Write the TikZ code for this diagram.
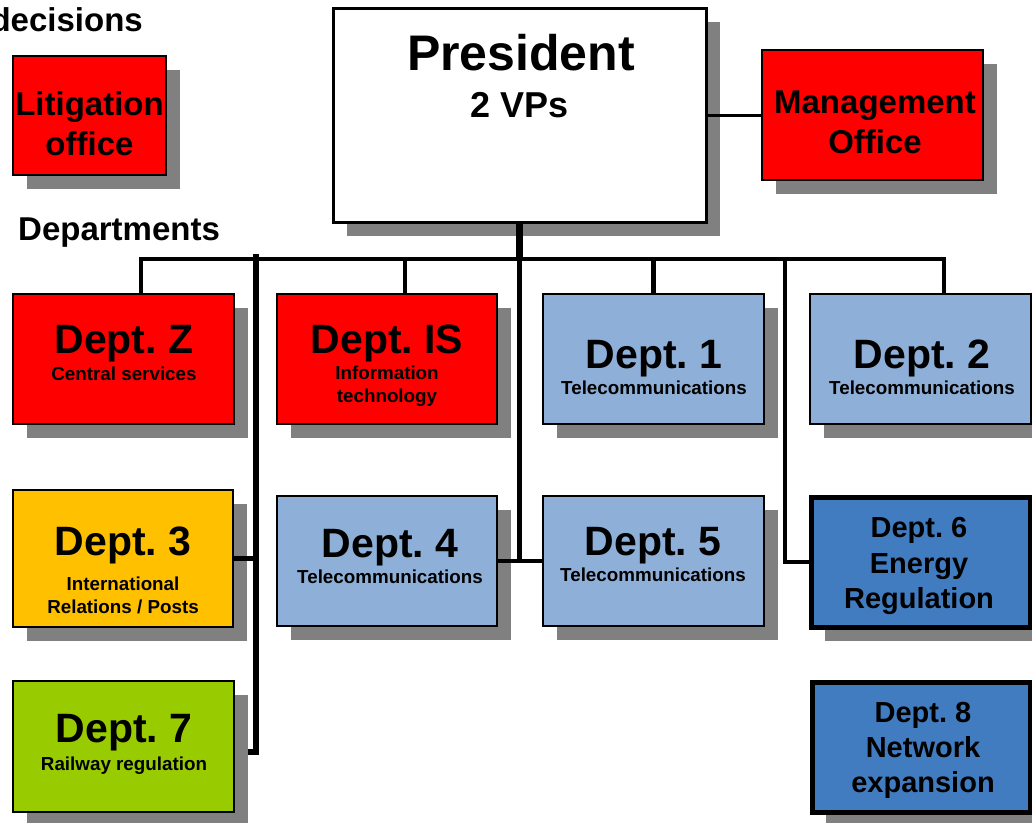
\documentclass[tikz,border=0pt]{standalone}
\usepackage{fontspec}
\setmainfont{Liberation Sans}
\usetikzlibrary{shadows}
\pgfdeclarelayer{bg}
\pgfsetlayers{bg,main}
\definecolor{lblue}{RGB}{142,176,216}
\definecolor{dblue}{RGB}{65,124,192}
\definecolor{dred}{RGB}{255,0,0}
\definecolor{dorange}{RGB}{255,192,0}
\definecolor{dgreen}{RGB}{153,204,0}
\definecolor{shadowgray}{RGB}{128,128,128}
\begin{document}
\frenchspacing
\begin{tikzpicture}[x=1pt,y=-1pt,
  orgbox/.style={draw=black, line width=1.5pt, inner sep=0pt,
    drop shadow={shadow xshift=14pt, shadow yshift=-14pt, fill=shadowgray, opacity=1}},
  thickbox/.style={orgbox, line width=5pt},
  txt/.style={anchor=base, inner sep=0pt, text=black},
  huge/.style={txt, font=\fontsize{50}{50}\selectfont\bfseries},
  big/.style={txt, font=\fontsize{41}{41}\selectfont\bfseries},
  mid/.style={txt, font=\fontsize{33}{33}\selectfont\bfseries},
  med/.style={txt, font=\fontsize{29}{29}\selectfont\bfseries},
  small/.style={txt, font=\fontsize{18.8}{18.8}\selectfont\bfseries},
  conn/.style={line width=4.5pt},
]
\useasboundingbox (0,0) rectangle (1032,822);
\clip (0,0) rectangle (1032,822);

% boxes
\node[orgbox, line width=3pt, fill=white, minimum width=373pt, minimum height=214pt] (pres) at (519.5,115) {};
\node[orgbox, fill=dred, minimum width=221pt, minimum height=130pt] (mgmt) at (872.5,115) {};
\node[orgbox, fill=dred, minimum width=153pt, minimum height=119pt] (lit) at (89.5,115.5) {};
\node[orgbox, fill=dred, minimum width=221pt, minimum height=130pt] (dz) at (123.5,359) {};
\node[orgbox, fill=dred, minimum width=220pt, minimum height=130pt] (dis) at (387,359) {};
\node[orgbox, fill=lblue, minimum width=221pt, minimum height=130pt] (d1) at (653.5,359) {};
\node[orgbox, fill=lblue, minimum width=221pt, minimum height=130pt] (d2) at (920.5,359) {};
\node[orgbox, fill=dorange, minimum width=220pt, minimum height=137pt] (d3) at (123,558.5) {};
\node[orgbox, fill=lblue, minimum width=220pt, minimum height=130pt] (d4) at (387,561) {};
\node[orgbox, fill=lblue, minimum width=221pt, minimum height=130pt] (d5) at (653.5,561) {};
\node[thickbox, fill=dblue, minimum width=219pt, minimum height=130pt] (d6) at (920.5,562) {};
\node[orgbox, fill=dgreen, minimum width=221pt, minimum height=131pt] (d7) at (123.5,746.5) {};
\node[thickbox, fill=dblue, minimum width=218pt, minimum height=130pt] (d8) at (921,747) {};

% free labels
\node[mid, anchor=base east] (decisions) at (143,31) {decisions};
\node[mid, anchor=base west] (departments) at (18,240) {Departments};

% texts in boxes
\node[huge] (pres-t1) at (521,70) {President};
\node[txt, font=\fontsize{36}{36}\selectfont\bfseries] (pres-t2) at (520,117) {2 VPs};
\node[mid] (mgmt-t1) at (875,113) {Management};
\node[mid] (mgmt-t2) at (875,153) {Office};
\node[mid] (lit-t1) at (89.5,115) {Litigation};
\node[mid] (lit-t2) at (89.5,155) {office};
\node[big] (dz-t1) at (124,353) {Dept. Z};
\node[small] (dz-t2) at (124,380) {Central services};
\node[big] (dis-t1) at (387,353) {Dept. IS};
\node[small] (dis-t2) at (387,379) {Information};
\node[small] (dis-t3) at (387,402) {technology};
\node[big] (d1-t1) at (654,368) {Dept. 1};
\node[small] (d1-t2) at (654,394) {Telecommunications};
\node[big] (d2-t1) at (922,368) {Dept. 2};
\node[small] (d2-t2) at (922,394) {Telecommunications};
\node[big] (d3-t1) at (123,555) {Dept. 3};
\node[small] (d3-t2) at (123,590) {International};
\node[small] (d3-t3) at (123,613) {Relations / Posts};
\node[big] (d4-t1) at (390,557) {Dept. 4};
\node[small] (d4-t2) at (390,583) {Telecommunications};
\node[big] (d5-t1) at (653,555) {Dept. 5};
\node[small] (d5-t2) at (653,581) {Telecommunications};
\node[med] (d6-t1) at (919,537) {Dept. 6};
\node[med] (d6-t2) at (919,573) {Energy};
\node[med] (d6-t3) at (919,608) {Regulation};
\node[big] (d7-t1) at (124,742) {Dept. 7};
\node[small] (d7-t2) at (124,770) {Railway regulation};
\node[med] (d8-t1) at (923,722) {Dept. 8};
\node[med] (d8-t2) at (923,757) {Network};
\node[med] (d8-t3) at (923,792) {expansion};

% connectors
\coordinate (busL) at (141,259);
\coordinate (busR) at (944,259);
\coordinate (rv) at (785,259);
\coordinate (lvtop) at (256,254);
\coordinate (lvbot) at (256,752);

\draw[line width=3pt] (pres.east) -- (mgmt.west);
\draw[line width=7pt] (pres.south) -- (pres.south |- busL);
\draw[conn] ([xshift=17.5pt]dz.north) -- (busL) -- (busR) -- ([xshift=23.5pt]d2.north);
\draw[conn] ([xshift=18pt]dis.north) -- ([xshift=18pt]dis.north |- busL);
\draw[conn] (d1.north) -- (d1.north |- busL);
\draw[conn] (pres.south |- busL) -- (pres.south |- d4.east);
\draw[conn] (d4.east) -- (d5.west);
\draw[line width=4pt] (rv) |- (d6.west);
\draw[conn] (d3.east) -- (d3.east -| lvtop);
\begin{pgfonlayer}{bg}
\draw[line width=5.5pt] (lvtop) -- (lvbot) -- ([yshift=-5.5pt]d7.east);
\end{pgfonlayer}
\end{tikzpicture}
\end{document}
